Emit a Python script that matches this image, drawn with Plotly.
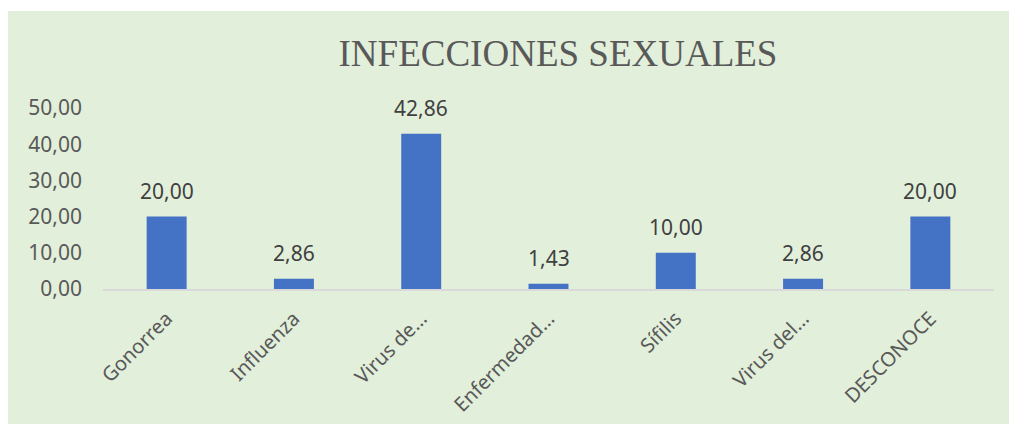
import plotly.graph_objects as go

categorias = ["Gonorrea", "Influenza", "Virus de…", "Enfermedad…", "Sífilis", "Virus del…", "DESCONOCE"]
porcentajes = [20.00, 2.86, 42.86, 1.43, 10.00, 2.86, 20.00]
ticks_y = [0, 10, 20, 30, 40, 50]

# la página deja 8 px arriba y a la izquierda: la figura ocupa el resto de la ventana
W, H = 1001, 416
ml, mr, mt, mb = 95, 15, 100, 135
ph = H - mt - mb

fig = go.Figure()
fig.add_trace(go.Bar(
    x=categorias,
    y=porcentajes,
    marker=dict(color="#4472C4", line=dict(width=0)),
    showlegend=False,
))

# etiquetas de datos encima de cada barra
for cat, val in zip(categorias, porcentajes):
    fig.add_annotation(
        x=cat, y=val, text=f"{val:.2f}".replace(".", ","),
        showarrow=False, yanchor="bottom", yshift=10,
        font=dict(family="Noto Sans", size=21, color="#404040"),
    )

# franja blanca fina arriba, como en el original
fig.add_shape(
    type="rect", xref="paper", yref="paper", layer="below",
    x0=-0.2, x1=1.2, y0=1 + (mt - 3) / ph, y1=1 + (mt + 5) / ph,
    fillcolor="white", line=dict(width=0),
)

fig.update_layout(
    width=W, height=H,
    margin=dict(l=ml, r=mr, t=mt, b=mb, autoexpand=False),
    paper_bgcolor="#E2EFDA",
    plot_bgcolor="rgba(0,0,0,0)",
    separators=",.",
    bargap=0.686,
    showlegend=False,
    title=dict(
        text="INFECCIONES SEXUALES",
        font=dict(family="Liberation Serif", size=37, color="#595959"),
        x=550 / W, xref="container", xanchor="center",
        y=1 - 45 / H, yref="container", yanchor="middle",
    ),
    font=dict(family="Noto Sans", size=20, color="#595959"),
)
fig.update_yaxes(
    range=[0, 50], tickvals=ticks_y, tickformat=".2f",
    showgrid=False, zeroline=False, showline=False,
    ticks="", ticklabelstandoff=20, automargin=False,
    tickfont=dict(size=21, color="#595959"),
)
fig.update_xaxes(
    showline=True, linecolor="#D9D9D9", linewidth=2,
    showgrid=False, ticks="", tickangle=-45,
    ticklabelstandoff=8, automargin=False,
    tickfont=dict(size=20, color="#595959"),
)

fig.write_html("out.html", post_script="document.body.style.margin = '8px 0 0 8px';")
